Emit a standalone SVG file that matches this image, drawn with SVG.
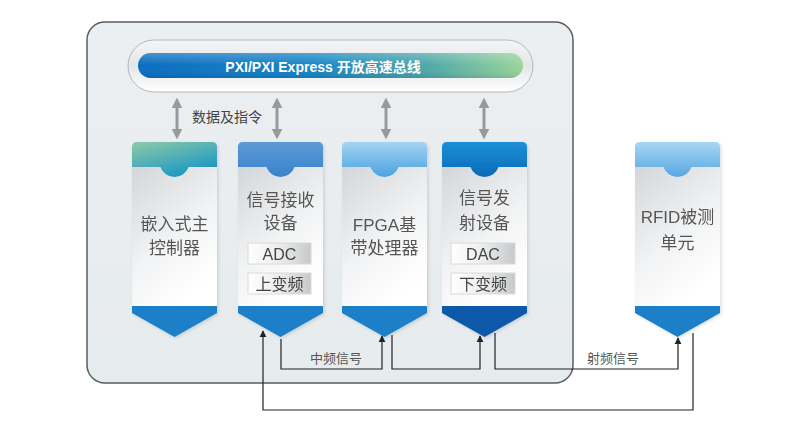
<svg xmlns="http://www.w3.org/2000/svg" width="803" height="440" viewBox="0 0 803 440">
<defs>
<style>
.t{font-family:"Liberation Sans","Noto Sans CJK SC",sans-serif;fill:#555;text-anchor:middle}
.nt{font-size:17px}
.st{font-size:16px;fill:#444}
.lb{font-size:13px;fill:#555}
.bus{font-size:14px;font-weight:bold;fill:#fff}
.body{fill:url(#gBody)}
.sub{fill:url(#gSub);stroke:#d8dadc;stroke-width:1}
.cn{fill:none;stroke:#222;stroke-width:1.2}
.ga{fill:none;stroke:#999;stroke-width:3}
.chev{fill:#1a7fc8}
</style>
<linearGradient id="gOuter" x1="0" y1="0" x2="0" y2="1"><stop offset="0" stop-color="#eceff1"/><stop offset="1" stop-color="#e6ebee"/></linearGradient>
<linearGradient id="gPill" x1="0" y1="0" x2="0" y2="1"><stop offset="0" stop-color="#f4f5f6"/><stop offset="0.5" stop-color="#e4e6e8"/><stop offset="1" stop-color="#ffffff"/></linearGradient>
<linearGradient id="gBar" x1="0" y1="0" x2="1" y2="0"><stop offset="0" stop-color="#0a6cc0"/><stop offset="0.45" stop-color="#1685c6"/><stop offset="0.75" stop-color="#4ea8a8"/><stop offset="1" stop-color="#9ad49a"/></linearGradient>
<linearGradient id="gBarShade" x1="0" y1="0" x2="0" y2="1"><stop offset="0" stop-color="#fff" stop-opacity="0.25"/><stop offset="0.5" stop-color="#fff" stop-opacity="0"/><stop offset="1" stop-color="#000" stop-opacity="0.1"/></linearGradient>
<linearGradient id="gBody" x1="0" y1="0" x2="0.5" y2="1"><stop offset="0" stop-color="#d3d6d9"/><stop offset="0.6" stop-color="#f2f3f4"/><stop offset="1" stop-color="#ffffff"/></linearGradient>
<linearGradient id="gSub" x1="0" y1="0" x2="1" y2="0"><stop offset="0" stop-color="#ffffff"/><stop offset="0.5" stop-color="#eceded"/><stop offset="1" stop-color="#c6c8ca"/></linearGradient>
<linearGradient id="h1" x1="0" y1="0" x2="0.6" y2="1"><stop offset="0" stop-color="#8fcaa6"/><stop offset="1" stop-color="#1a97c4"/></linearGradient>
<linearGradient id="h2" x1="0" y1="0" x2="0" y2="1"><stop offset="0" stop-color="#5c9ad6"/><stop offset="1" stop-color="#3a82cc"/></linearGradient>
<linearGradient id="h3" x1="0" y1="0" x2="0" y2="1"><stop offset="0" stop-color="#a6d4f2"/><stop offset="1" stop-color="#4aa2e0"/></linearGradient>
<linearGradient id="h4" x1="0" y1="0" x2="0" y2="1"><stop offset="0" stop-color="#1c8fd8"/><stop offset="1" stop-color="#0a6ab8"/></linearGradient>
<linearGradient id="h5" x1="0" y1="0" x2="0" y2="1"><stop offset="0" stop-color="#a8d6f4"/><stop offset="1" stop-color="#56a8e2"/></linearGradient>
<filter id="sh" x="-10%" y="-10%" width="125%" height="125%"><feDropShadow dx="1.5" dy="1.5" stdDeviation="1.5" flood-color="#000" flood-opacity="0.12"/></filter>
<marker id="ah" viewBox="0 0 10 10" refX="9" refY="5" markerWidth="6" markerHeight="6" orient="auto"><path d="M0,0 L10,5 L0,10 Z" fill="#222"/></marker>
<marker id="gh" viewBox="0 0 10 10" refX="4" refY="5" markerWidth="3.6" markerHeight="3.6" orient="auto-start-reverse"><path d="M0,0 L10,5 L0,10 Z" fill="#999"/></marker>
</defs>

<g id="frame">
<rect x="87" y="22" width="486" height="361" rx="18" fill="url(#gOuter)" stroke="#5a5e62" stroke-width="1.5"/>
</g>

<g id="bus">
<rect x="128" y="40" width="405" height="52" rx="26" fill="url(#gPill)" stroke="#b4b8bc" stroke-width="1"/>
<rect x="138" y="53" width="385" height="25" rx="12.5" fill="url(#gBar)"/>
<rect x="138" y="53" width="385" height="25" rx="12.5" fill="url(#gBarShade)"/>
<text class="t bus" x="323" y="72">PXI/PXI Express 开放高速总线</text>
</g>

<g id="bus-arrows">
<path class="ga" d="M177,104 V133" marker-start="url(#gh)" marker-end="url(#gh)"/>
<path class="ga" d="M277,104 V133" marker-start="url(#gh)" marker-end="url(#gh)"/>
<path class="ga" d="M386,104 V133" marker-start="url(#gh)" marker-end="url(#gh)"/>
<path class="ga" d="M484,104 V133" marker-start="url(#gh)" marker-end="url(#gh)"/>
<text class="t" x="227" y="122" style="fill:#444;font-size:14px">数据及指令</text>
</g>

<g id="node-ctrl" filter="url(#sh)">
<rect class="body" x="132" y="166" width="85" height="142"/>
<path fill="url(#h1)" d="M132,167 V147 Q132,142 137,142 H212 Q217,142 217,147 V167 H188.6 A15,15 0 0 1 160.4,167 Z"/>
<path class="chev" d="M132,306 H217 V313 L174.5,337 L132,313 Z"/>
<text class="t nt" x="174.5" y="230">嵌入式主</text>
<text class="t nt" x="174.5" y="254">控制器</text>
</g>

<g id="node-rx" filter="url(#sh)">
<rect class="body" x="238" y="166" width="85" height="142"/>
<path fill="url(#h2)" d="M238,167 V147 Q238,142 243,142 H318 Q323,142 323,147 V167 H294.6 A15,15 0 0 1 266.4,167 Z"/>
<path class="chev" d="M238,306 H323 V313 L280.5,337 L238,313 Z"/>
<text class="t nt" x="280.5" y="206">信号接收</text>
<text class="t nt" x="280.5" y="229">设备</text>
<rect class="sub" x="248" y="243" width="63" height="21"/>
<text class="t st" x="279.5" y="259.5">ADC</text>
<rect class="sub" x="248" y="273" width="63" height="21"/>
<text class="t st" x="279.5" y="289.5">上变频</text>
</g>

<g id="node-fpga" filter="url(#sh)">
<rect class="body" x="342" y="166" width="85" height="142"/>
<path fill="url(#h3)" d="M342,167 V147 Q342,142 347,142 H422 Q427,142 427,147 V167 H398.6 A15,15 0 0 1 370.4,167 Z"/>
<path class="chev" d="M342,306 H427 V313 L384.5,337 L342,313 Z"/>
<text class="t nt" x="384.5" y="231">FPGA基</text>
<text class="t nt" x="384.5" y="254">带处理器</text>
</g>

<g id="node-tx" filter="url(#sh)">
<rect class="body" x="442" y="166" width="85" height="142"/>
<path fill="url(#h4)" d="M442,167 V147 Q442,142 447,142 H522 Q527,142 527,147 V167 H498.6 A15,15 0 0 1 470.4,167 Z"/>
<path fill="#0a58a8" d="M442,306 H527 V313 L484.5,337 L442,313 Z"/>
<text class="t nt" x="484.5" y="204">信号发</text>
<text class="t nt" x="484.5" y="229">射设备</text>
<rect class="sub" x="451" y="243" width="64" height="21"/>
<text class="t st" x="483" y="259.5">DAC</text>
<rect class="sub" x="451" y="273" width="64" height="21"/>
<text class="t st" x="483" y="289.5">下变频</text>
</g>

<g id="node-rfid" filter="url(#sh)">
<rect class="body" x="635" y="166" width="85" height="142"/>
<path fill="url(#h5)" d="M635,167 V147 Q635,142 640,142 H715 Q720,142 720,147 V167 H691.6 A15,15 0 0 1 663.4,167 Z"/>
<path class="chev" d="M635,306 H720 V313 L677.5,337 L635,313 Z"/>
<text class="t nt" x="677.5" y="223">RFID被测</text>
<text class="t nt" x="677.5" y="249">单元</text>
</g>

<g id="connectors">
<path class="cn" d="M693,333 V410 H263 V331" marker-end="url(#ah)"/>
<path class="cn" d="M281,339 V369 H382 V336" marker-end="url(#ah)"/>
<path class="cn" d="M392,335 V369 H480 V336" marker-end="url(#ah)"/>
<path class="cn" d="M495,333 V369 H678 V338" marker-end="url(#ah)"/>
<text class="t lb" x="336" y="363">中频信号</text>
<text class="t lb" x="613" y="363">射频信号</text>
</g>
</svg>
